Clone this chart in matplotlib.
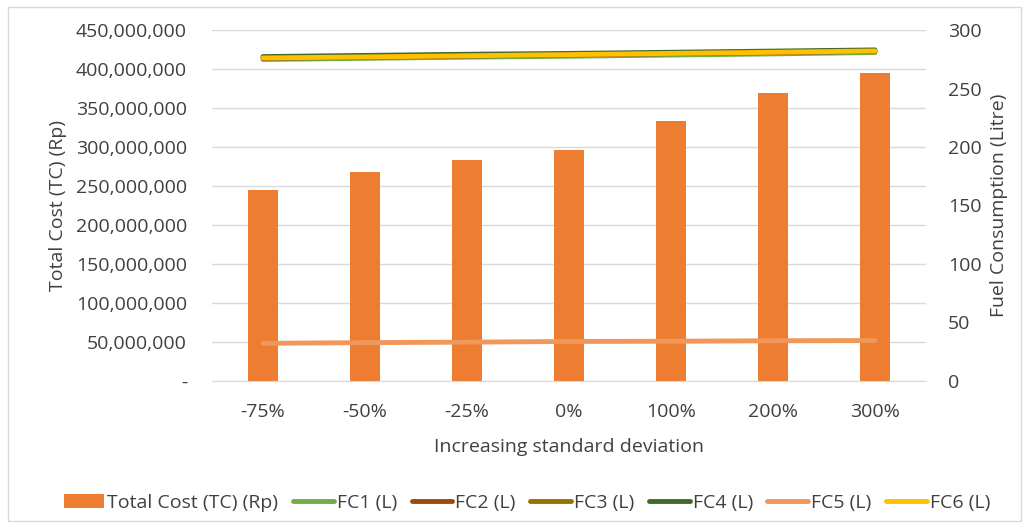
import numpy as np
import matplotlib.pyplot as plt
from matplotlib.patches import Rectangle
from matplotlib.ticker import FuncFormatter

plt.rcParams['font.family'] = ['Open Sans', 'DejaVu Sans']

categories = ['-75%', '-50%', '-25%', '0%', '100%', '200%', '300%']
total_cost = [245e6, 267.5e6, 283e6, 296e6, 334e6, 370e6, 395e6]
fc1 = [275.0, 276.0, 277.0, 277.8, 278.8, 279.8, 281.0]
fc2 = [276.0, 277.0, 278.0, 279.0, 280.0, 281.0, 282.0]
fc3 = [276.5, 277.5, 278.5, 279.5, 280.5, 281.5, 282.5]
fc4 = [277.5, 278.5, 279.5, 280.2, 281.2, 282.2, 283.2]
fc5 = [32.0, 32.6, 33.0, 33.6, 33.8, 34.2, 34.4]
fc6 = [276.3, 277.2, 278.2, 279.2, 280.2, 281.2, 282.3]

fc_series = [('FC1 (L)', fc1, '#70AD47'), ('FC2 (L)', fc2, '#9E480E'),
             ('FC3 (L)', fc3, '#997300'), ('FC4 (L)', fc4, '#43682B'),
             ('FC5 (L)', fc5, '#F1975A'), ('FC6 (L)', fc6, '#FFC000')]

txt = '#404040'
fs = 14

fig = plt.figure(figsize=(10.29, 5.28), dpi=100)
ax = fig.add_axes([212/1029, 1-380.7/528, (926-212)/1029, (380.7-30.3)/528])
x = np.arange(len(categories))

ax.bar(x, total_cost, width=0.29, color='#ED7D31', zorder=2, label='Total Cost (TC) (Rp)')
ax.set_xlim(-0.5, len(categories)-0.5)
ax.set_ylim(0, 450e6)
ax.set_yticks(np.arange(0, 450e6+1, 50e6))
ax.yaxis.set_major_formatter(FuncFormatter(lambda v, p: '-' if v == 0 else f'{v:,.0f}'))
ax.grid(axis='y', color='#d9d9d9', lw=1, zorder=0)
ax.set_xticks(x)
ax.set_xticklabels(categories)
for s in ['top', 'left', 'right']:
    ax.spines[s].set_visible(False)
ax.spines['bottom'].set_color('#d9d9d9')
ax.tick_params(length=0, labelsize=fs, colors=txt, pad=18)
ax.tick_params(axis='x', pad=16)
ax.set_ylabel('Total Cost (TC) (Rp)', fontsize=fs, color=txt, labelpad=6)
ax.set_xlabel('Increasing standard deviation', fontsize=fs, color=txt, labelpad=12)

ax2 = ax.twinx()
for name, vals, col in fc_series:
    ax2.plot(x, vals, color=col, lw=3.5, solid_capstyle='round', label=name)
ax2.set_ylim(0, 300)
ax2.set_yticks(np.arange(0, 301, 50))
for s in ['top', 'left', 'right', 'bottom']:
    ax2.spines[s].set_visible(False)
ax2.tick_params(length=0, labelsize=fs, colors=txt, pad=16)
ax2.set_ylabel('Fuel Consumption (Litre)', fontsize=fs, color=txt, labelpad=6)

h1, l1 = ax.get_legend_handles_labels()
h2, l2 = ax2.get_legend_handles_labels()
fig.legend(h1 + h2, l1 + l2, loc='center', bbox_to_anchor=(0.512, 1-503/528), ncol=7,
           frameon=False, fontsize=fs, handlelength=2.1, handletextpad=0.15,
           columnspacing=0.75, labelcolor=txt)

fig.add_artist(Rectangle((8/1029, 1-521/528), 1013/1029, 514/528, transform=fig.transFigure,
                         fill=False, edgecolor='#d9d9d9', lw=1))

fig.savefig('out.png', dpi=100)
